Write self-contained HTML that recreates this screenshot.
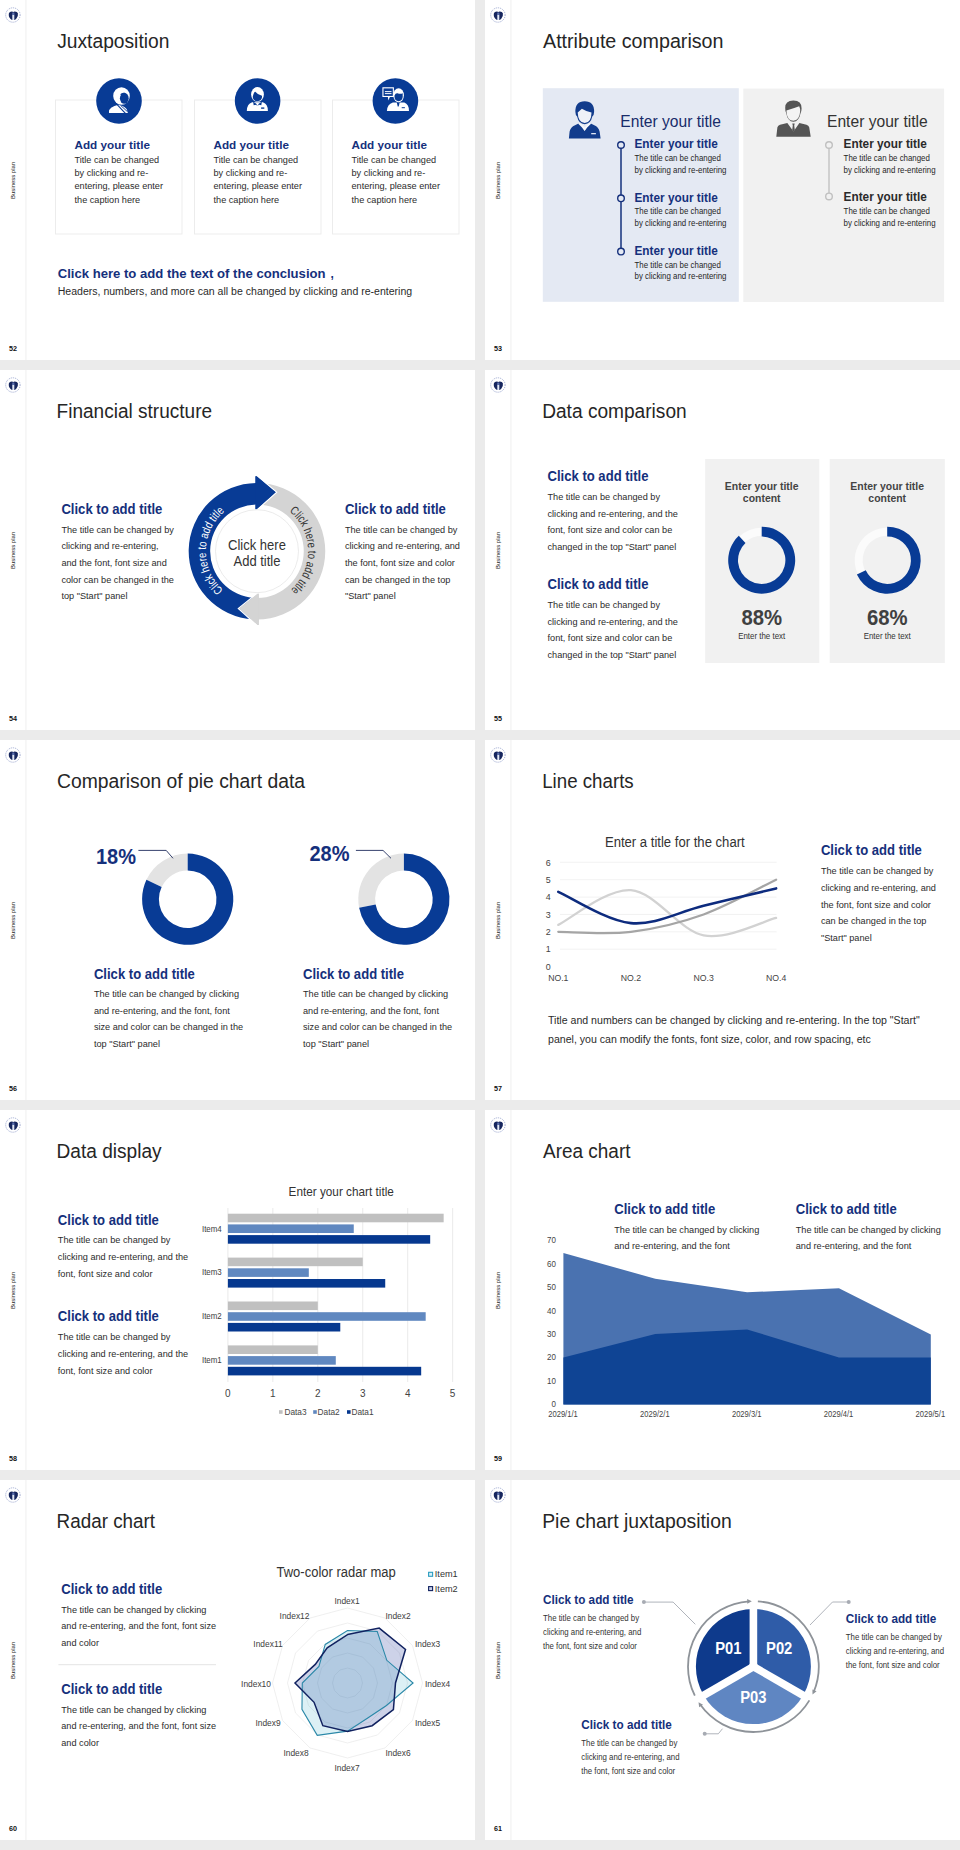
<!DOCTYPE html><html><head><meta charset="utf-8"><title>Slides</title><style>html,body{margin:0;padding:0;background:#ebebeb}svg{display:block}text{font-family:"Liberation Sans",sans-serif}</style></head><body>
<svg width="960" height="1850" viewBox="0 0 960 1850">
<rect width="960" height="1850" fill="#ebebeb"/>
<g transform="translate(0,0)">
<rect x="0" y="0" width="475" height="360" fill="#fff"/>
<rect x="25.2" y="0" width="1.4" height="360" fill="#f4f4f4"/>
<circle cx="12.9" cy="15" r="7.2" fill="none" stroke="#7d8cc0" stroke-width="1" stroke-dasharray="1.1 1" opacity="0.75"/>
<path d="M8.9 13.2 Q9.6 11.3 12 11.4 L13.3 12.1 L14.6 11.4 Q17.2 11.3 17.9 13.2 Q18.5 16.8 16.1 18.9 Q14.6 20.1 13.3 20.1 Q12 20.1 10.6 18.9 Q8.2 16.8 8.9 13.2 Z" fill="#17275f"/>
<path d="M12.3 12.4 L14.3 12.4 L14.5 15 L12.1 15 Z" fill="#5a6fae"/>
<rect x="12.3" y="15" width="2" height="5" fill="#e2e8f6"/>
<text transform="translate(15.2,180.4) rotate(-90)" font-size="6.2" fill="#1a1a1a" text-anchor="middle" textLength="37" lengthAdjust="spacingAndGlyphs">Business plan</text>
<text x="9" y="351" font-size="7.2" font-weight="bold" fill="#111">52</text>
<text x="57.2" y="47.5" font-size="20" fill="#262626" textLength="112.2" lengthAdjust="spacingAndGlyphs">Juxtaposition</text>
</g>
<g transform="translate(485,0)">
<rect x="0" y="0" width="475" height="360" fill="#fff"/>
<rect x="25.2" y="0" width="1.4" height="360" fill="#f4f4f4"/>
<circle cx="12.9" cy="15" r="7.2" fill="none" stroke="#7d8cc0" stroke-width="1" stroke-dasharray="1.1 1" opacity="0.75"/>
<path d="M8.9 13.2 Q9.6 11.3 12 11.4 L13.3 12.1 L14.6 11.4 Q17.2 11.3 17.9 13.2 Q18.5 16.8 16.1 18.9 Q14.6 20.1 13.3 20.1 Q12 20.1 10.6 18.9 Q8.2 16.8 8.9 13.2 Z" fill="#17275f"/>
<path d="M12.3 12.4 L14.3 12.4 L14.5 15 L12.1 15 Z" fill="#5a6fae"/>
<rect x="12.3" y="15" width="2" height="5" fill="#e2e8f6"/>
<text transform="translate(15.2,180.4) rotate(-90)" font-size="6.2" fill="#1a1a1a" text-anchor="middle" textLength="37" lengthAdjust="spacingAndGlyphs">Business plan</text>
<text x="9" y="351" font-size="7.2" font-weight="bold" fill="#111">53</text>
<text x="58" y="47.5" font-size="20" fill="#262626" textLength="180.5" lengthAdjust="spacingAndGlyphs">Attribute comparison</text>
</g>
<g transform="translate(0,370)">
<rect x="0" y="0" width="475" height="360" fill="#fff"/>
<rect x="25.2" y="0" width="1.4" height="360" fill="#f4f4f4"/>
<circle cx="12.9" cy="15" r="7.2" fill="none" stroke="#7d8cc0" stroke-width="1" stroke-dasharray="1.1 1" opacity="0.75"/>
<path d="M8.9 13.2 Q9.6 11.3 12 11.4 L13.3 12.1 L14.6 11.4 Q17.2 11.3 17.9 13.2 Q18.5 16.8 16.1 18.9 Q14.6 20.1 13.3 20.1 Q12 20.1 10.6 18.9 Q8.2 16.8 8.9 13.2 Z" fill="#17275f"/>
<path d="M12.3 12.4 L14.3 12.4 L14.5 15 L12.1 15 Z" fill="#5a6fae"/>
<rect x="12.3" y="15" width="2" height="5" fill="#e2e8f6"/>
<text transform="translate(15.2,180.4) rotate(-90)" font-size="6.2" fill="#1a1a1a" text-anchor="middle" textLength="37" lengthAdjust="spacingAndGlyphs">Business plan</text>
<text x="9" y="351" font-size="7.2" font-weight="bold" fill="#111">54</text>
<text x="56.6" y="47.5" font-size="20" fill="#262626" textLength="155.5" lengthAdjust="spacingAndGlyphs">Financial structure</text>
</g>
<g transform="translate(485,370)">
<rect x="0" y="0" width="475" height="360" fill="#fff"/>
<rect x="25.2" y="0" width="1.4" height="360" fill="#f4f4f4"/>
<circle cx="12.9" cy="15" r="7.2" fill="none" stroke="#7d8cc0" stroke-width="1" stroke-dasharray="1.1 1" opacity="0.75"/>
<path d="M8.9 13.2 Q9.6 11.3 12 11.4 L13.3 12.1 L14.6 11.4 Q17.2 11.3 17.9 13.2 Q18.5 16.8 16.1 18.9 Q14.6 20.1 13.3 20.1 Q12 20.1 10.6 18.9 Q8.2 16.8 8.9 13.2 Z" fill="#17275f"/>
<path d="M12.3 12.4 L14.3 12.4 L14.5 15 L12.1 15 Z" fill="#5a6fae"/>
<rect x="12.3" y="15" width="2" height="5" fill="#e2e8f6"/>
<text transform="translate(15.2,180.4) rotate(-90)" font-size="6.2" fill="#1a1a1a" text-anchor="middle" textLength="37" lengthAdjust="spacingAndGlyphs">Business plan</text>
<text x="9" y="351" font-size="7.2" font-weight="bold" fill="#111">55</text>
<text x="57.2" y="47.5" font-size="20" fill="#262626" textLength="144.5" lengthAdjust="spacingAndGlyphs">Data comparison</text>
</g>
<g transform="translate(0,740)">
<rect x="0" y="0" width="475" height="360" fill="#fff"/>
<rect x="25.2" y="0" width="1.4" height="360" fill="#f4f4f4"/>
<circle cx="12.9" cy="15" r="7.2" fill="none" stroke="#7d8cc0" stroke-width="1" stroke-dasharray="1.1 1" opacity="0.75"/>
<path d="M8.9 13.2 Q9.6 11.3 12 11.4 L13.3 12.1 L14.6 11.4 Q17.2 11.3 17.9 13.2 Q18.5 16.8 16.1 18.9 Q14.6 20.1 13.3 20.1 Q12 20.1 10.6 18.9 Q8.2 16.8 8.9 13.2 Z" fill="#17275f"/>
<path d="M12.3 12.4 L14.3 12.4 L14.5 15 L12.1 15 Z" fill="#5a6fae"/>
<rect x="12.3" y="15" width="2" height="5" fill="#e2e8f6"/>
<text transform="translate(15.2,180.4) rotate(-90)" font-size="6.2" fill="#1a1a1a" text-anchor="middle" textLength="37" lengthAdjust="spacingAndGlyphs">Business plan</text>
<text x="9" y="351" font-size="7.2" font-weight="bold" fill="#111">56</text>
<text x="57.1" y="47.5" font-size="20" fill="#262626" textLength="248" lengthAdjust="spacingAndGlyphs">Comparison of pie chart data</text>
</g>
<g transform="translate(485,740)">
<rect x="0" y="0" width="475" height="360" fill="#fff"/>
<rect x="25.2" y="0" width="1.4" height="360" fill="#f4f4f4"/>
<circle cx="12.9" cy="15" r="7.2" fill="none" stroke="#7d8cc0" stroke-width="1" stroke-dasharray="1.1 1" opacity="0.75"/>
<path d="M8.9 13.2 Q9.6 11.3 12 11.4 L13.3 12.1 L14.6 11.4 Q17.2 11.3 17.9 13.2 Q18.5 16.8 16.1 18.9 Q14.6 20.1 13.3 20.1 Q12 20.1 10.6 18.9 Q8.2 16.8 8.9 13.2 Z" fill="#17275f"/>
<path d="M12.3 12.4 L14.3 12.4 L14.5 15 L12.1 15 Z" fill="#5a6fae"/>
<rect x="12.3" y="15" width="2" height="5" fill="#e2e8f6"/>
<text transform="translate(15.2,180.4) rotate(-90)" font-size="6.2" fill="#1a1a1a" text-anchor="middle" textLength="37" lengthAdjust="spacingAndGlyphs">Business plan</text>
<text x="9" y="351" font-size="7.2" font-weight="bold" fill="#111">57</text>
<text x="57.2" y="47.5" font-size="20" fill="#262626" textLength="91.5" lengthAdjust="spacingAndGlyphs">Line charts</text>
</g>
<g transform="translate(0,1110)">
<rect x="0" y="0" width="475" height="360" fill="#fff"/>
<rect x="25.2" y="0" width="1.4" height="360" fill="#f4f4f4"/>
<circle cx="12.9" cy="15" r="7.2" fill="none" stroke="#7d8cc0" stroke-width="1" stroke-dasharray="1.1 1" opacity="0.75"/>
<path d="M8.9 13.2 Q9.6 11.3 12 11.4 L13.3 12.1 L14.6 11.4 Q17.2 11.3 17.9 13.2 Q18.5 16.8 16.1 18.9 Q14.6 20.1 13.3 20.1 Q12 20.1 10.6 18.9 Q8.2 16.8 8.9 13.2 Z" fill="#17275f"/>
<path d="M12.3 12.4 L14.3 12.4 L14.5 15 L12.1 15 Z" fill="#5a6fae"/>
<rect x="12.3" y="15" width="2" height="5" fill="#e2e8f6"/>
<text transform="translate(15.2,180.4) rotate(-90)" font-size="6.2" fill="#1a1a1a" text-anchor="middle" textLength="37" lengthAdjust="spacingAndGlyphs">Business plan</text>
<text x="9" y="351" font-size="7.2" font-weight="bold" fill="#111">58</text>
<text x="56.6" y="47.5" font-size="20" fill="#262626" textLength="105" lengthAdjust="spacingAndGlyphs">Data display</text>
</g>
<g transform="translate(485,1110)">
<rect x="0" y="0" width="475" height="360" fill="#fff"/>
<rect x="25.2" y="0" width="1.4" height="360" fill="#f4f4f4"/>
<circle cx="12.9" cy="15" r="7.2" fill="none" stroke="#7d8cc0" stroke-width="1" stroke-dasharray="1.1 1" opacity="0.75"/>
<path d="M8.9 13.2 Q9.6 11.3 12 11.4 L13.3 12.1 L14.6 11.4 Q17.2 11.3 17.9 13.2 Q18.5 16.8 16.1 18.9 Q14.6 20.1 13.3 20.1 Q12 20.1 10.6 18.9 Q8.2 16.8 8.9 13.2 Z" fill="#17275f"/>
<path d="M12.3 12.4 L14.3 12.4 L14.5 15 L12.1 15 Z" fill="#5a6fae"/>
<rect x="12.3" y="15" width="2" height="5" fill="#e2e8f6"/>
<text transform="translate(15.2,180.4) rotate(-90)" font-size="6.2" fill="#1a1a1a" text-anchor="middle" textLength="37" lengthAdjust="spacingAndGlyphs">Business plan</text>
<text x="9" y="351" font-size="7.2" font-weight="bold" fill="#111">59</text>
<text x="58" y="47.5" font-size="20" fill="#262626" textLength="87.5" lengthAdjust="spacingAndGlyphs">Area chart</text>
</g>
<g transform="translate(0,1480)">
<rect x="0" y="0" width="475" height="360" fill="#fff"/>
<rect x="25.2" y="0" width="1.4" height="360" fill="#f4f4f4"/>
<circle cx="12.9" cy="15" r="7.2" fill="none" stroke="#7d8cc0" stroke-width="1" stroke-dasharray="1.1 1" opacity="0.75"/>
<path d="M8.9 13.2 Q9.6 11.3 12 11.4 L13.3 12.1 L14.6 11.4 Q17.2 11.3 17.9 13.2 Q18.5 16.8 16.1 18.9 Q14.6 20.1 13.3 20.1 Q12 20.1 10.6 18.9 Q8.2 16.8 8.9 13.2 Z" fill="#17275f"/>
<path d="M12.3 12.4 L14.3 12.4 L14.5 15 L12.1 15 Z" fill="#5a6fae"/>
<rect x="12.3" y="15" width="2" height="5" fill="#e2e8f6"/>
<text transform="translate(15.2,180.4) rotate(-90)" font-size="6.2" fill="#1a1a1a" text-anchor="middle" textLength="37" lengthAdjust="spacingAndGlyphs">Business plan</text>
<text x="9" y="351" font-size="7.2" font-weight="bold" fill="#111">60</text>
<text x="56.6" y="47.5" font-size="20" fill="#262626" textLength="98.5" lengthAdjust="spacingAndGlyphs">Radar chart</text>
</g>
<g transform="translate(485,1480)">
<rect x="0" y="0" width="475" height="360" fill="#fff"/>
<rect x="25.2" y="0" width="1.4" height="360" fill="#f4f4f4"/>
<circle cx="12.9" cy="15" r="7.2" fill="none" stroke="#7d8cc0" stroke-width="1" stroke-dasharray="1.1 1" opacity="0.75"/>
<path d="M8.9 13.2 Q9.6 11.3 12 11.4 L13.3 12.1 L14.6 11.4 Q17.2 11.3 17.9 13.2 Q18.5 16.8 16.1 18.9 Q14.6 20.1 13.3 20.1 Q12 20.1 10.6 18.9 Q8.2 16.8 8.9 13.2 Z" fill="#17275f"/>
<path d="M12.3 12.4 L14.3 12.4 L14.5 15 L12.1 15 Z" fill="#5a6fae"/>
<rect x="12.3" y="15" width="2" height="5" fill="#e2e8f6"/>
<text transform="translate(15.2,180.4) rotate(-90)" font-size="6.2" fill="#1a1a1a" text-anchor="middle" textLength="37" lengthAdjust="spacingAndGlyphs">Business plan</text>
<text x="9" y="351" font-size="7.2" font-weight="bold" fill="#111">61</text>
<text x="57.2" y="47.5" font-size="20" fill="#262626" textLength="189.5" lengthAdjust="spacingAndGlyphs">Pie chart juxtaposition</text>
</g>
<rect x="55.5" y="100" width="126.5" height="134" fill="#fff" stroke="#ebebeb" stroke-width="0.9"/>
<circle cx="119" cy="101" r="22.8" fill="#083b95"/>
<text x="74.5" y="148.6" font-size="11.82" fill="#15307c" font-weight="bold" textLength="75.4" lengthAdjust="spacingAndGlyphs">Add your title</text>
<text x="74.5" y="162.5" font-size="9.84" fill="#2b2b2b" textLength="84.61" lengthAdjust="spacingAndGlyphs">Title can be changed</text>
<text x="74.5" y="175.9" font-size="9.84" fill="#2b2b2b" textLength="73.74" lengthAdjust="spacingAndGlyphs">by clicking and re-</text>
<text x="74.5" y="189.3" font-size="9.84" fill="#2b2b2b" textLength="88.51" lengthAdjust="spacingAndGlyphs">entering, please enter</text>
<text x="74.5" y="202.7" font-size="9.84" fill="#2b2b2b" textLength="65.62" lengthAdjust="spacingAndGlyphs">the caption here</text>
<rect x="194.5" y="100" width="126.5" height="134" fill="#fff" stroke="#ebebeb" stroke-width="0.9"/>
<circle cx="257.6" cy="101" r="22.8" fill="#083b95"/>
<text x="213.5" y="148.6" font-size="11.82" fill="#15307c" font-weight="bold" textLength="75.4" lengthAdjust="spacingAndGlyphs">Add your title</text>
<text x="213.5" y="162.5" font-size="9.84" fill="#2b2b2b" textLength="84.61" lengthAdjust="spacingAndGlyphs">Title can be changed</text>
<text x="213.5" y="175.9" font-size="9.84" fill="#2b2b2b" textLength="73.74" lengthAdjust="spacingAndGlyphs">by clicking and re-</text>
<text x="213.5" y="189.3" font-size="9.84" fill="#2b2b2b" textLength="88.51" lengthAdjust="spacingAndGlyphs">entering, please enter</text>
<text x="213.5" y="202.7" font-size="9.84" fill="#2b2b2b" textLength="65.62" lengthAdjust="spacingAndGlyphs">the caption here</text>
<rect x="332.5" y="100" width="126.5" height="134" fill="#fff" stroke="#ebebeb" stroke-width="0.9"/>
<circle cx="395.4" cy="101" r="22.8" fill="#083b95"/>
<text x="351.5" y="148.6" font-size="11.82" fill="#15307c" font-weight="bold" textLength="75.4" lengthAdjust="spacingAndGlyphs">Add your title</text>
<text x="351.5" y="162.5" font-size="9.84" fill="#2b2b2b" textLength="84.61" lengthAdjust="spacingAndGlyphs">Title can be changed</text>
<text x="351.5" y="175.9" font-size="9.84" fill="#2b2b2b" textLength="73.74" lengthAdjust="spacingAndGlyphs">by clicking and re-</text>
<text x="351.5" y="189.3" font-size="9.84" fill="#2b2b2b" textLength="88.51" lengthAdjust="spacingAndGlyphs">entering, please enter</text>
<text x="351.5" y="202.7" font-size="9.84" fill="#2b2b2b" textLength="65.62" lengthAdjust="spacingAndGlyphs">the caption here</text>
<g transform="translate(119,100.6)"><path d="M-10 12.5 L-10 9.6 Q-8.4 6.6 -4.6 5.4 L-1.4 4.4 Q4 4.6 7.6 8.4 L9 12.5 Z" fill="#fff"/><ellipse cx="2.5" cy="-4.6" rx="8.3" ry="8.8" fill="#fff"/><ellipse cx="5.3" cy="-2.3" rx="4.4" ry="5.5" fill="#083b95"/><path d="M1.2 -6.4 Q3 -8.6 6.4 -7.6 L4 -4 Z" fill="#083b95"/><path d="M-6.6 -1 L6.4 12.8" stroke="#083b95" stroke-width="1.1"/><path d="M1.6 4.8 L8.6 11.2" stroke="#083b95" stroke-width="0.9"/></g>
<g transform="translate(257.5,100.6)"><path d="M-10.7 10.4 Q-10.6 3.2 -5.4 1.6 L5.4 1.6 Q10.4 3.2 10.4 10.4 Z" fill="#fff"/><path d="M-4.4 1.2 L-1.2 3.2 L0 5.4 L1.2 3.2 L4.4 1.2 L3.8 4.6 L1.4 4.2 L0 5.4 L-1.4 4.2 L-3.8 4.6 Z" fill="#083b95"/><rect x="3.6" y="6.8" width="3.2" height="1.4" fill="#083b95"/><ellipse cx="0" cy="-6.2" rx="6.4" ry="7.4" fill="#fff"/><path d="M-4.7 -4.2 Q-3.6 -8.6 -2.2 -8.8 Q0.6 -5.4 4.5 -4.8 L4.5 -3.4 Q4.2 0.2 0 0.6 Q-4.4 0.2 -4.7 -3.4 Z" fill="#083b95"/></g>
<g transform="translate(395.5,100.6)"><path d="M-8.6 10.4 Q-8.4 3.4 -2.6 1.8 L8.8 1.8 Q13.5 3.4 13.5 10.4 Z" fill="#fff"/><path d="M1.2 1.6 L2.2 6 L3.2 6 L4.2 1.6 Z" fill="#083b95"/><rect x="6.2" y="6.6" width="3.2" height="1" fill="#083b95"/><ellipse cx="3.1" cy="-5.3" rx="5.3" ry="7" fill="#fff"/><path d="M-1 -5 Q0 -7.8 2 -7.4 Q5 -6.4 7.2 -7.4 L7.2 -3.6 Q6.8 0.2 3.1 0.6 Q-0.8 0.2 -1 -3.6 Z" fill="#083b95"/><path d="M-13.1 -13.3 L-1.6 -13.3 L-1.6 -3.6 L-5.6 -3.6 L-7.2 0 L-7.6 -3.6 L-13.1 -3.6 Z" fill="#fff"/><rect x="-12" y="-12.2" width="9.3" height="7.5" fill="#083b95"/><rect x="-10.6" y="-9.6" width="6.6" height="1.1" fill="#dfe6f4"/><rect x="-10.6" y="-7.6" width="6.6" height="1.1" fill="#dfe6f4"/></g>
<text x="57.7" y="277.6" font-size="13.62" fill="#15307c" font-weight="bold" textLength="267.86" lengthAdjust="spacingAndGlyphs">Click here to add the text of the conclusion</text>
<text x="330.5" y="277.6" font-size="12.9" fill="#15307c" font-weight="bold" textLength="3.33" lengthAdjust="spacingAndGlyphs">,</text>
<text x="57.7" y="295.0" font-size="10.01" fill="#2b2b2b" textLength="354.47" lengthAdjust="spacingAndGlyphs">Headers, numbers, and more can all be changed by clicking and re-entering</text>
<rect x="542.8" y="88.2" width="196" height="213.6" fill="#e4e9f3"/>
<rect x="743.3" y="88.6" width="200.8" height="213.4" fill="#f1f1f1"/>
<path d="M568.9 138.5 L569.6 131.5 Q570.6 127 575 125.2 L580 122.8 L584.6 130.8 L589.3 122.8 L594.3 125.2 Q598.6 127 599.6 131.5 L600.6 138.5 Z" fill="#123c8c"/>
<path d="M578 123.6 L580 122.6 L584.6 127.4 L589.3 122.6 L591.3 123.6 L587.2 127.6 L584.6 131 L582 127.6 Z" fill="#f4f6fb"/>
<path d="M575.4 112 Q575 101.2 584.7 101.2 Q594.4 101.2 594.1 112 Q594 115.5 592.3 116.5 Q590.8 123.8 584.7 124.3 Q578.6 123.8 577.1 116.5 Q575.5 115.5 575.4 112 Z" fill="#123c8c"/>
<path d="M577.7 112.6 L581.9 108.8 Q586.5 111.8 591.5 112.4 Q591.4 122.7 584.7 123.1 Q578 122.7 577.7 112.6 Z" fill="#eef1f8"/>
<rect x="591.2" y="133" width="4.7" height="1.3" fill="#dfe6f4"/>
<path d="M776.3 136.7 L777.4 127.3 Q778 125.5 780 124.8 L787.3 123.1 L793.5 131.5 L799.4 123.1 L806.5 124.8 Q808.6 125.5 809.2 127.3 L810.7 136.7 Z" fill="#555"/>
<path d="M792.3 123.6 L794.7 123.6 L794.2 125.6 L794.8 130 L793.5 131.8 L792.2 130 L792.8 125.6 Z" fill="#555"/>
<path d="M785.2 108 Q785 100.5 793.4 100.5 Q801.8 100.5 801.6 108.5 Q801.4 112 800.6 113 Q799 121.5 793.4 121.8 Q787.6 121.5 786.2 113 Q785.2 111.5 785.2 108 Z" fill="#555"/>
<path d="M786.4 110.4 Q793 108.6 799.2 106.2 Q800.3 108.5 800.2 111 Q799.6 120.6 793.4 120.8 Q787.2 120.6 786.6 112.5 Z" fill="#f4f4f4"/>
<text x="620.3" y="126.6" font-size="16.79" fill="#182c6a" textLength="100.71" lengthAdjust="spacingAndGlyphs">Enter your title</text>
<text x="827" y="126.5" font-size="16.79" fill="#333" textLength="100.71" lengthAdjust="spacingAndGlyphs">Enter your title</text>
<line x1="621" y1="145" x2="621" y2="251.6" stroke="#15307c" stroke-width="1.5"/>
<circle cx="621" cy="145" r="3.3" fill="#e4e9f3" stroke="#15307c" stroke-width="1.4"/>
<circle cx="621" cy="198.3" r="3.3" fill="#e4e9f3" stroke="#15307c" stroke-width="1.4"/>
<circle cx="621" cy="251.6" r="3.3" fill="#e4e9f3" stroke="#15307c" stroke-width="1.4"/>
<text x="634.5" y="148.3" font-size="12.69" fill="#15307c" font-weight="bold" textLength="83.27" lengthAdjust="spacingAndGlyphs">Enter your title</text>
<text x="634.5" y="161.1" font-size="8.47" fill="#262626" textLength="86.3" lengthAdjust="spacingAndGlyphs">The title can be changed</text>
<text x="634.5" y="172.6" font-size="8.47" fill="#262626" textLength="91.98" lengthAdjust="spacingAndGlyphs">by clicking and re-entering</text>
<text x="634.5" y="201.6" font-size="12.69" fill="#15307c" font-weight="bold" textLength="83.27" lengthAdjust="spacingAndGlyphs">Enter your title</text>
<text x="634.5" y="214.4" font-size="8.47" fill="#262626" textLength="86.3" lengthAdjust="spacingAndGlyphs">The title can be changed</text>
<text x="634.5" y="225.9" font-size="8.47" fill="#262626" textLength="91.98" lengthAdjust="spacingAndGlyphs">by clicking and re-entering</text>
<text x="634.5" y="254.9" font-size="12.69" fill="#15307c" font-weight="bold" textLength="83.27" lengthAdjust="spacingAndGlyphs">Enter your title</text>
<text x="634.5" y="267.7" font-size="8.47" fill="#262626" textLength="86.3" lengthAdjust="spacingAndGlyphs">The title can be changed</text>
<text x="634.5" y="279.2" font-size="8.47" fill="#262626" textLength="91.98" lengthAdjust="spacingAndGlyphs">by clicking and re-entering</text>
<line x1="829" y1="145" x2="829" y2="196.4" stroke="#c4c4c4" stroke-width="1.5"/>
<circle cx="829" cy="145" r="3.3" fill="#f1f1f1" stroke="#c0c0c0" stroke-width="1.4"/>
<circle cx="829" cy="196.4" r="3.3" fill="#f1f1f1" stroke="#c0c0c0" stroke-width="1.4"/>
<text x="843.6" y="148.3" font-size="12.69" fill="#2a2a2a" font-weight="bold" textLength="83.27" lengthAdjust="spacingAndGlyphs">Enter your title</text>
<text x="843.6" y="161.2" font-size="8.47" fill="#262626" textLength="86.3" lengthAdjust="spacingAndGlyphs">The title can be changed</text>
<text x="843.6" y="172.7" font-size="8.47" fill="#262626" textLength="91.98" lengthAdjust="spacingAndGlyphs">by clicking and re-entering</text>
<text x="843.6" y="201.4" font-size="12.69" fill="#2a2a2a" font-weight="bold" textLength="83.27" lengthAdjust="spacingAndGlyphs">Enter your title</text>
<text x="843.6" y="214.3" font-size="8.47" fill="#262626" textLength="86.3" lengthAdjust="spacingAndGlyphs">The title can be changed</text>
<text x="843.6" y="225.8" font-size="8.47" fill="#262626" textLength="91.98" lengthAdjust="spacingAndGlyphs">by clicking and re-entering</text>
<path d="M257.00 482.95 A68.25 68.25 0 0 1 257.00 619.45 L257.00 597.95 A46.75 46.75 0 0 0 257.00 504.45 Z" fill="#d4d4d4"/>
<path d="M253.43 619.36 A68.25 68.25 0 0 1 256.88 482.95 L256.92 504.45 A46.75 46.75 0 0 0 254.55 597.89 Z" fill="#083b95"/>
<path d="M255.5 476.3 L256.7 476.3 L275.8 492.2 L256.7 509.2 L255.5 509.2 Z" fill="#083b95"/>
<polyline points="256.7,475.6 276.6,492.2 256.7,509.9" fill="none" stroke="#fff" stroke-width="1.3"/>
<path d="M255.5 476.3 L256.7 476.3 L275.8 492.2 L256.7 509.2 L255.5 509.2 Z" fill="#083b95"/>
<path d="M258.8 593.7 L257.5 593.7 L239.2 608.6 L257.5 625 L258.8 625 Z" fill="#d4d4d4"/>
<polyline points="257.5,593 238.4,608.6 257.5,625.7" fill="none" stroke="#fff" stroke-width="1.3"/>
<path d="M258.8 593.7 L257.5 593.7 L239.2 608.6 L257.5 625 L258.8 625 Z" fill="#d4d4d4"/>
<circle cx="257" cy="551.2" r="41.5" fill="#fff" stroke="#e6e6e6" stroke-width="0.8"/>
<defs><path id="arcB" d="M239.49 599.31 A51.2 51.2 0 0 1 241.18 502.51"/><path id="arcG" d="M272.82 502.51 A51.2 51.2 0 0 1 274.51 599.31"/></defs>
<text font-size="12" fill="#fff"><textPath href="#arcB" startOffset="50%" text-anchor="middle" textLength="89" lengthAdjust="spacingAndGlyphs">Click here to add title</textPath></text>
<text font-size="12" fill="#333"><textPath href="#arcG" startOffset="50%" text-anchor="middle" textLength="89" lengthAdjust="spacingAndGlyphs">Click here to add title</textPath></text>
<text x="257" y="549.7" font-size="13.97" fill="#333" text-anchor="middle" textLength="57.8" lengthAdjust="spacingAndGlyphs">Click here</text>
<text x="257" y="565.5" font-size="13.97" fill="#333" text-anchor="middle" textLength="46.97" lengthAdjust="spacingAndGlyphs">Add title</text>
<text x="61.4" y="513.6" font-size="14.06" fill="#15307c" font-weight="bold" textLength="101.02" lengthAdjust="spacingAndGlyphs">Click to add title</text>
<text x="61.4" y="532.6" font-size="9.85" fill="#2b2b2b" textLength="112.54" lengthAdjust="spacingAndGlyphs">The title can be changed by</text>
<text x="61.4" y="549.3" font-size="9.85" fill="#2b2b2b" textLength="97.25" lengthAdjust="spacingAndGlyphs">clicking and re-entering,</text>
<text x="61.4" y="566.0" font-size="9.85" fill="#2b2b2b" textLength="105.42" lengthAdjust="spacingAndGlyphs">and the font, font size and</text>
<text x="61.4" y="582.7" font-size="9.85" fill="#2b2b2b" textLength="112.55" lengthAdjust="spacingAndGlyphs">color can be changed in the</text>
<text x="61.4" y="599.4" font-size="9.85" fill="#2b2b2b" textLength="66.08" lengthAdjust="spacingAndGlyphs">top "Start" panel</text>
<text x="344.9" y="513.6" font-size="14.06" fill="#15307c" font-weight="bold" textLength="101.02" lengthAdjust="spacingAndGlyphs">Click to add title</text>
<text x="344.9" y="532.6" font-size="9.85" fill="#2b2b2b" textLength="112.54" lengthAdjust="spacingAndGlyphs">The title can be changed by</text>
<text x="344.9" y="549.3" font-size="9.85" fill="#2b2b2b" textLength="115.08" lengthAdjust="spacingAndGlyphs">clicking and re-entering, and</text>
<text x="344.9" y="566.0" font-size="9.85" fill="#2b2b2b" textLength="109.99" lengthAdjust="spacingAndGlyphs">the font, font size and color</text>
<text x="344.9" y="582.7" font-size="9.85" fill="#2b2b2b" textLength="105.43" lengthAdjust="spacingAndGlyphs">can be changed in the top</text>
<text x="344.9" y="599.4" font-size="9.85" fill="#2b2b2b" textLength="50.81" lengthAdjust="spacingAndGlyphs">"Start" panel</text>
<text x="547.5" y="480.8" font-size="14.06" fill="#15307c" font-weight="bold" textLength="101.02" lengthAdjust="spacingAndGlyphs">Click to add title</text>
<text x="547.5" y="500.0" font-size="9.85" fill="#2b2b2b" textLength="112.54" lengthAdjust="spacingAndGlyphs">The title can be changed by</text>
<text x="547.5" y="516.7" font-size="9.85" fill="#2b2b2b" textLength="130.36" lengthAdjust="spacingAndGlyphs">clicking and re-entering, and the</text>
<text x="547.5" y="533.4" font-size="9.85" fill="#2b2b2b" textLength="124.76" lengthAdjust="spacingAndGlyphs">font, font size and color can be</text>
<text x="547.5" y="550.1" font-size="9.85" fill="#2b2b2b" textLength="128.73" lengthAdjust="spacingAndGlyphs">changed in the top "Start" panel</text>
<text x="547.5" y="588.7" font-size="14.06" fill="#15307c" font-weight="bold" textLength="101.02" lengthAdjust="spacingAndGlyphs">Click to add title</text>
<text x="547.5" y="608.0" font-size="9.85" fill="#2b2b2b" textLength="112.54" lengthAdjust="spacingAndGlyphs">The title can be changed by</text>
<text x="547.5" y="624.7" font-size="9.85" fill="#2b2b2b" textLength="130.36" lengthAdjust="spacingAndGlyphs">clicking and re-entering, and the</text>
<text x="547.5" y="641.4" font-size="9.85" fill="#2b2b2b" textLength="124.76" lengthAdjust="spacingAndGlyphs">font, font size and color can be</text>
<text x="547.5" y="658.1" font-size="9.85" fill="#2b2b2b" textLength="128.73" lengthAdjust="spacingAndGlyphs">changed in the top "Start" panel</text>
<rect x="705.2" y="459" width="114.1" height="204" fill="#f1f1f1"/>
<text x="761.7" y="489.6" font-size="11.22" fill="#444" font-weight="bold" text-anchor="middle" textLength="73.67" lengthAdjust="spacingAndGlyphs">Enter your title</text>
<text x="761.7" y="502.3" font-size="11.22" fill="#444" font-weight="bold" text-anchor="middle" textLength="37.7" lengthAdjust="spacingAndGlyphs">content</text>
<path d="M739.45 536.51 A32.5 32.5 0 0 1 761.70 527.70 L761.70 535.70 A24.5 24.5 0 0 0 744.93 542.34 Z" fill="#fbfbfb"/>
<path d="M761.70 526.70 A33.5 33.5 0 1 1 738.77 535.78 L745.48 542.92 A23.7 23.7 0 1 0 761.70 536.50 Z" fill="#083b95"/>
<text x="761.7" y="624.5" font-size="21.82" fill="#404040" font-weight="bold" text-anchor="middle" textLength="40.63" lengthAdjust="spacingAndGlyphs">88%</text>
<text x="761.7" y="638.8" font-size="8.49" fill="#333" text-anchor="middle" textLength="46.99" lengthAdjust="spacingAndGlyphs">Enter the text</text>
<rect x="829.7" y="459" width="115.1" height="204" fill="#f1f1f1"/>
<text x="887.2" y="489.6" font-size="11.22" fill="#444" font-weight="bold" text-anchor="middle" textLength="73.67" lengthAdjust="spacingAndGlyphs">Enter your title</text>
<text x="887.2" y="502.3" font-size="11.22" fill="#444" font-weight="bold" text-anchor="middle" textLength="37.7" lengthAdjust="spacingAndGlyphs">content</text>
<path d="M857.79 574.04 A32.5 32.5 0 0 1 887.20 527.70 L887.20 535.70 A24.5 24.5 0 0 0 865.03 570.63 Z" fill="#fbfbfb"/>
<path d="M887.20 526.70 A33.5 33.5 0 1 1 856.89 574.46 L865.76 570.29 A23.7 23.7 0 1 0 887.20 536.50 Z" fill="#083b95"/>
<text x="887.2" y="624.5" font-size="21.82" fill="#404040" font-weight="bold" text-anchor="middle" textLength="40.63" lengthAdjust="spacingAndGlyphs">68%</text>
<text x="887.2" y="638.8" font-size="8.49" fill="#333" text-anchor="middle" textLength="46.99" lengthAdjust="spacingAndGlyphs">Enter the text</text>
<path d="M146.44 879.78 A45.6 45.6 0 0 1 187.69 853.60 L187.69 870.40 A28.8 28.8 0 0 0 161.64 886.94 Z" fill="#e3e3e3"/>
<path d="M187.70 853.60 A45.6 45.6 0 1 1 146.44 879.78 L161.64 886.94 A28.8 28.8 0 1 0 187.70 870.40 Z" fill="#083b95"/>
<text x="96" y="864" font-size="21.5" fill="#15307c" font-weight="bold" textLength="40.03" lengthAdjust="spacingAndGlyphs">18%</text>
<polyline points="138.4,850.4 166.2,850.4 173,858.3" fill="none" stroke="#1f2d5c" stroke-width="0.9"/>
<path d="M359.11 907.74 A45.6 45.6 0 0 1 403.89 853.60 L403.89 870.40 A28.8 28.8 0 0 0 375.61 904.60 Z" fill="#e3e3e3"/>
<path d="M403.90 853.60 A45.6 45.6 0 1 1 359.11 907.74 L375.61 904.60 A28.8 28.8 0 1 0 403.90 870.40 Z" fill="#083b95"/>
<text x="309.5" y="861" font-size="21.5" fill="#15307c" font-weight="bold" textLength="40.03" lengthAdjust="spacingAndGlyphs">28%</text>
<polyline points="355.9,850.4 383,850.4 391,858.3" fill="none" stroke="#1f2d5c" stroke-width="0.9"/>
<text x="93.9" y="978.6" font-size="14.06" fill="#15307c" font-weight="bold" textLength="101.02" lengthAdjust="spacingAndGlyphs">Click to add title</text>
<text x="93.9" y="997.2" font-size="9.85" fill="#2b2b2b" textLength="145.12" lengthAdjust="spacingAndGlyphs">The title can be changed by clicking</text>
<text x="93.9" y="1013.8" font-size="9.85" fill="#2b2b2b" textLength="135.97" lengthAdjust="spacingAndGlyphs">and re-entering, and the font, font</text>
<text x="93.9" y="1030.4" font-size="9.85" fill="#2b2b2b" textLength="149.21" lengthAdjust="spacingAndGlyphs">size and color can be changed in the</text>
<text x="93.9" y="1047.0" font-size="9.85" fill="#2b2b2b" textLength="66.08" lengthAdjust="spacingAndGlyphs">top "Start" panel</text>
<text x="303" y="978.6" font-size="14.06" fill="#15307c" font-weight="bold" textLength="101.02" lengthAdjust="spacingAndGlyphs">Click to add title</text>
<text x="303" y="997.2" font-size="9.85" fill="#2b2b2b" textLength="145.12" lengthAdjust="spacingAndGlyphs">The title can be changed by clicking</text>
<text x="303" y="1013.8" font-size="9.85" fill="#2b2b2b" textLength="135.97" lengthAdjust="spacingAndGlyphs">and re-entering, and the font, font</text>
<text x="303" y="1030.4" font-size="9.85" fill="#2b2b2b" textLength="149.21" lengthAdjust="spacingAndGlyphs">size and color can be changed in the</text>
<text x="303" y="1047.0" font-size="9.85" fill="#2b2b2b" textLength="66.08" lengthAdjust="spacingAndGlyphs">top "Start" panel</text>
<text x="674.8" y="847" font-size="14.08" fill="#333" text-anchor="middle" textLength="139.8" lengthAdjust="spacingAndGlyphs">Enter a title for the chart</text>
<line x1="560" y1="949.22" x2="776.5" y2="949.22" stroke="#efefef" stroke-width="0.8"/>
<line x1="560" y1="931.84" x2="776.5" y2="931.84" stroke="#efefef" stroke-width="0.8"/>
<line x1="560" y1="914.46" x2="776.5" y2="914.46" stroke="#efefef" stroke-width="0.8"/>
<line x1="560" y1="897.08" x2="776.5" y2="897.08" stroke="#efefef" stroke-width="0.8"/>
<line x1="560" y1="879.70" x2="776.5" y2="879.70" stroke="#efefef" stroke-width="0.8"/>
<line x1="560" y1="862.32" x2="776.5" y2="862.32" stroke="#efefef" stroke-width="0.8"/>
<text x="548.1" y="969.8" font-size="9.57" fill="#444" text-anchor="middle" textLength="4.95" lengthAdjust="spacingAndGlyphs">0</text>
<text x="548.1" y="952.42" font-size="9.57" fill="#444" text-anchor="middle" textLength="4.95" lengthAdjust="spacingAndGlyphs">1</text>
<text x="548.1" y="935.04" font-size="9.57" fill="#444" text-anchor="middle" textLength="4.95" lengthAdjust="spacingAndGlyphs">2</text>
<text x="548.1" y="917.66" font-size="9.57" fill="#444" text-anchor="middle" textLength="4.95" lengthAdjust="spacingAndGlyphs">3</text>
<text x="548.1" y="900.28" font-size="9.57" fill="#444" text-anchor="middle" textLength="4.95" lengthAdjust="spacingAndGlyphs">4</text>
<text x="548.1" y="882.9" font-size="9.57" fill="#444" text-anchor="middle" textLength="4.95" lengthAdjust="spacingAndGlyphs">5</text>
<text x="548.1" y="865.52" font-size="9.57" fill="#444" text-anchor="middle" textLength="4.95" lengthAdjust="spacingAndGlyphs">6</text>
<text x="558.3" y="981.3" font-size="9.35" fill="#444" text-anchor="middle" textLength="20.31" lengthAdjust="spacingAndGlyphs">NO.1</text>
<text x="630.9" y="981.3" font-size="9.35" fill="#444" text-anchor="middle" textLength="20.31" lengthAdjust="spacingAndGlyphs">NO.2</text>
<text x="703.6" y="981.3" font-size="9.35" fill="#444" text-anchor="middle" textLength="20.31" lengthAdjust="spacingAndGlyphs">NO.3</text>
<text x="776.1" y="981.3" font-size="9.35" fill="#444" text-anchor="middle" textLength="20.31" lengthAdjust="spacingAndGlyphs">NO.4</text>
<path d="M558.30 924.89 C570.40 919.09 606.68 888.39 630.90 890.13 C655.12 891.87 679.40 930.68 703.60 935.32 C727.80 939.95 764.02 920.83 776.10 917.94" fill="none" stroke="#d2d2d2" stroke-width="2.3" stroke-linecap="round"/>
<path d="M558.30 931.84 C570.40 931.84 606.68 934.74 630.90 931.84 C655.12 928.94 679.40 923.15 703.60 914.46 C727.80 905.77 764.02 885.49 776.10 879.70" fill="none" stroke="#a5a5a5" stroke-width="2.3" stroke-linecap="round"/>
<path d="M558.30 891.87 C570.40 897.08 606.68 920.83 630.90 923.15 C655.12 925.47 679.40 911.56 703.60 905.77 C727.80 899.98 764.02 891.29 776.10 888.39" fill="none" stroke="#0d2b7e" stroke-width="2.6" stroke-linecap="round"/>
<text x="820.9" y="854.7" font-size="14.06" fill="#15307c" font-weight="bold" textLength="101.02" lengthAdjust="spacingAndGlyphs">Click to add title</text>
<text x="820.9" y="874.4" font-size="9.85" fill="#2b2b2b" textLength="112.54" lengthAdjust="spacingAndGlyphs">The title can be changed by</text>
<text x="820.9" y="891.0" font-size="9.85" fill="#2b2b2b" textLength="115.08" lengthAdjust="spacingAndGlyphs">clicking and re-entering, and</text>
<text x="820.9" y="907.6" font-size="9.85" fill="#2b2b2b" textLength="109.99" lengthAdjust="spacingAndGlyphs">the font, font size and color</text>
<text x="820.9" y="924.2" font-size="9.85" fill="#2b2b2b" textLength="105.43" lengthAdjust="spacingAndGlyphs">can be changed in the top</text>
<text x="820.9" y="940.8" font-size="9.85" fill="#2b2b2b" textLength="50.81" lengthAdjust="spacingAndGlyphs">"Start" panel</text>
<text x="548" y="1024.0" font-size="10.59" fill="#2b2b2b">Title and numbers can be changed by clicking and re-entering. In the top "Start"</text>
<text x="548" y="1043.2" font-size="10.59" fill="#2b2b2b">panel, you can modify the fonts, font size, color, and row spacing, etc</text>
<text x="341.2" y="1196.3" font-size="12.64" fill="#333" text-anchor="middle" textLength="105.23" lengthAdjust="spacingAndGlyphs">Enter your chart title</text>
<line x1="227.90" y1="1208" x2="227.90" y2="1382" stroke="#e4e4e4" stroke-width="0.8"/>
<text x="227.9" y="1397.3" font-size="10.75" fill="#444" text-anchor="middle" textLength="5.56" lengthAdjust="spacingAndGlyphs">0</text>
<line x1="272.85" y1="1208" x2="272.85" y2="1382" stroke="#e4e4e4" stroke-width="0.8"/>
<text x="272.85" y="1397.3" font-size="10.75" fill="#444" text-anchor="middle" textLength="5.56" lengthAdjust="spacingAndGlyphs">1</text>
<line x1="317.80" y1="1208" x2="317.80" y2="1382" stroke="#e4e4e4" stroke-width="0.8"/>
<text x="317.8" y="1397.3" font-size="10.75" fill="#444" text-anchor="middle" textLength="5.56" lengthAdjust="spacingAndGlyphs">2</text>
<line x1="362.75" y1="1208" x2="362.75" y2="1382" stroke="#e4e4e4" stroke-width="0.8"/>
<text x="362.75" y="1397.3" font-size="10.75" fill="#444" text-anchor="middle" textLength="5.56" lengthAdjust="spacingAndGlyphs">3</text>
<line x1="407.70" y1="1208" x2="407.70" y2="1382" stroke="#e4e4e4" stroke-width="0.8"/>
<text x="407.7" y="1397.3" font-size="10.75" fill="#444" text-anchor="middle" textLength="5.56" lengthAdjust="spacingAndGlyphs">4</text>
<line x1="452.65" y1="1208" x2="452.65" y2="1382" stroke="#e4e4e4" stroke-width="0.8"/>
<text x="452.65" y="1397.3" font-size="10.75" fill="#444" text-anchor="middle" textLength="5.56" lengthAdjust="spacingAndGlyphs">5</text>
<rect x="227.9" y="1345.40" width="89.90" height="8.6" fill="#c0c0c0"/>
<rect x="227.9" y="1356.10" width="107.88" height="8.6" fill="#6088c0"/>
<rect x="227.9" y="1366.80" width="193.28" height="8.6" fill="#06388f"/>
<text x="221.7" y="1363.2" font-size="8.49" fill="#404040" text-anchor="end" textLength="19.76" lengthAdjust="spacingAndGlyphs">Item1</text>
<rect x="227.9" y="1301.50" width="89.90" height="8.6" fill="#c0c0c0"/>
<rect x="227.9" y="1312.20" width="197.78" height="8.6" fill="#6088c0"/>
<rect x="227.9" y="1322.90" width="112.38" height="8.6" fill="#06388f"/>
<text x="221.7" y="1319.3" font-size="8.49" fill="#404040" text-anchor="end" textLength="19.76" lengthAdjust="spacingAndGlyphs">Item2</text>
<rect x="227.9" y="1257.60" width="134.85" height="8.6" fill="#c0c0c0"/>
<rect x="227.9" y="1268.30" width="80.91" height="8.6" fill="#6088c0"/>
<rect x="227.9" y="1279.00" width="157.33" height="8.6" fill="#06388f"/>
<text x="221.7" y="1275.4" font-size="8.49" fill="#404040" text-anchor="end" textLength="19.76" lengthAdjust="spacingAndGlyphs">Item3</text>
<rect x="227.9" y="1213.70" width="215.76" height="8.6" fill="#c0c0c0"/>
<rect x="227.9" y="1224.40" width="125.86" height="8.6" fill="#6088c0"/>
<rect x="227.9" y="1235.10" width="202.28" height="8.6" fill="#06388f"/>
<text x="221.7" y="1231.5" font-size="8.49" fill="#404040" text-anchor="end" textLength="19.76" lengthAdjust="spacingAndGlyphs">Item4</text>
<rect x="279" y="1410.2" width="3.6" height="3.6" fill="#c0c0c0"/>
<text x="284.4" y="1415" font-size="8.92" fill="#444" textLength="22.15" lengthAdjust="spacingAndGlyphs">Data3</text>
<rect x="313.2" y="1410.2" width="3.6" height="3.6" fill="#6088c0"/>
<text x="317.6" y="1415" font-size="8.92" fill="#444" textLength="22.15" lengthAdjust="spacingAndGlyphs">Data2</text>
<rect x="347" y="1410.2" width="3.6" height="3.6" fill="#06388f"/>
<text x="351.4" y="1415" font-size="8.92" fill="#444" textLength="22.15" lengthAdjust="spacingAndGlyphs">Data1</text>
<text x="57.8" y="1224.8" font-size="14.06" fill="#15307c" font-weight="bold" textLength="101.02" lengthAdjust="spacingAndGlyphs">Click to add title</text>
<text x="57.8" y="1243.3" font-size="9.85" fill="#2b2b2b" textLength="112.54" lengthAdjust="spacingAndGlyphs">The title can be changed by</text>
<text x="57.8" y="1260.1" font-size="9.85" fill="#2b2b2b" textLength="130.36" lengthAdjust="spacingAndGlyphs">clicking and re-entering, and the</text>
<text x="57.8" y="1276.9" font-size="9.85" fill="#2b2b2b" textLength="94.71" lengthAdjust="spacingAndGlyphs">font, font size and color</text>
<text x="57.8" y="1321.4" font-size="14.06" fill="#15307c" font-weight="bold" textLength="101.02" lengthAdjust="spacingAndGlyphs">Click to add title</text>
<text x="57.8" y="1340.2" font-size="9.85" fill="#2b2b2b" textLength="112.54" lengthAdjust="spacingAndGlyphs">The title can be changed by</text>
<text x="57.8" y="1357.0" font-size="9.85" fill="#2b2b2b" textLength="130.36" lengthAdjust="spacingAndGlyphs">clicking and re-entering, and the</text>
<text x="57.8" y="1373.8" font-size="9.85" fill="#2b2b2b" textLength="94.71" lengthAdjust="spacingAndGlyphs">font, font size and color</text>
<text x="614.2" y="1213.7" font-size="14.06" fill="#15307c" font-weight="bold" textLength="101.02" lengthAdjust="spacingAndGlyphs">Click to add title</text>
<text x="795.7" y="1213.7" font-size="14.06" fill="#15307c" font-weight="bold" textLength="101.02" lengthAdjust="spacingAndGlyphs">Click to add title</text>
<text x="614.2" y="1232.5" font-size="9.85" fill="#2b2b2b" textLength="145.12" lengthAdjust="spacingAndGlyphs">The title can be changed by clicking</text>
<text x="614.2" y="1248.9" font-size="9.85" fill="#2b2b2b" textLength="115.6" lengthAdjust="spacingAndGlyphs">and re-entering, and the font</text>
<text x="795.7" y="1232.5" font-size="9.85" fill="#2b2b2b" textLength="145.12" lengthAdjust="spacingAndGlyphs">The title can be changed by clicking</text>
<text x="795.7" y="1248.9" font-size="9.85" fill="#2b2b2b" textLength="115.6" lengthAdjust="spacingAndGlyphs">and re-entering, and the font</text>
<polygon points="563.40,1404.4 563.40,1252.98 655.25,1278.76 747.10,1292.36 838.95,1288.14 930.80,1334.55 930.80,1404.4" fill="#4a72b0"/>
<polygon points="563.40,1404.4 563.40,1357.52 655.25,1334.08 747.10,1329.39 838.95,1357.52 930.80,1357.52 930.80,1404.4" fill="#0f4494"/>
<text x="556" y="1407.3" font-size="8.6" fill="#444" text-anchor="end" textLength="4.45" lengthAdjust="spacingAndGlyphs">0</text>
<text x="556" y="1383.86" font-size="8.6" fill="#444" text-anchor="end" textLength="8.9" lengthAdjust="spacingAndGlyphs">10</text>
<text x="556" y="1360.42" font-size="8.6" fill="#444" text-anchor="end" textLength="8.9" lengthAdjust="spacingAndGlyphs">20</text>
<text x="556" y="1336.98" font-size="8.6" fill="#444" text-anchor="end" textLength="8.9" lengthAdjust="spacingAndGlyphs">30</text>
<text x="556" y="1313.54" font-size="8.6" fill="#444" text-anchor="end" textLength="8.9" lengthAdjust="spacingAndGlyphs">40</text>
<text x="556" y="1290.1" font-size="8.6" fill="#444" text-anchor="end" textLength="8.9" lengthAdjust="spacingAndGlyphs">50</text>
<text x="556" y="1266.66" font-size="8.6" fill="#444" text-anchor="end" textLength="8.9" lengthAdjust="spacingAndGlyphs">60</text>
<text x="556" y="1243.22" font-size="8.6" fill="#444" text-anchor="end" textLength="8.9" lengthAdjust="spacingAndGlyphs">70</text>
<text x="563.0" y="1417.4" font-size="8.17" fill="#444" text-anchor="middle" textLength="29.58" lengthAdjust="spacingAndGlyphs">2029/1/1</text>
<text x="654.85" y="1417.4" font-size="8.17" fill="#444" text-anchor="middle" textLength="29.58" lengthAdjust="spacingAndGlyphs">2029/2/1</text>
<text x="746.7" y="1417.4" font-size="8.17" fill="#444" text-anchor="middle" textLength="29.58" lengthAdjust="spacingAndGlyphs">2029/3/1</text>
<text x="838.55" y="1417.4" font-size="8.17" fill="#444" text-anchor="middle" textLength="29.58" lengthAdjust="spacingAndGlyphs">2029/4/1</text>
<text x="930.4" y="1417.4" font-size="8.17" fill="#444" text-anchor="middle" textLength="29.58" lengthAdjust="spacingAndGlyphs">2029/5/1</text>
<text x="61.25" y="1594" font-size="14.06" fill="#15307c" font-weight="bold" textLength="101.02" lengthAdjust="spacingAndGlyphs">Click to add title</text>
<text x="61.25" y="1612.75" font-size="9.85" fill="#2b2b2b" textLength="145.12" lengthAdjust="spacingAndGlyphs">The title can be changed by clicking</text>
<text x="61.25" y="1629.45" font-size="9.85" fill="#2b2b2b" textLength="154.8" lengthAdjust="spacingAndGlyphs">and re-entering, and the font, font size</text>
<text x="61.25" y="1646.15" font-size="9.85" fill="#2b2b2b" textLength="37.68" lengthAdjust="spacingAndGlyphs">and color</text>
<line x1="58.4" y1="1664.7" x2="216" y2="1664.7" stroke="#e2e2e2" stroke-width="0.9"/>
<text x="61.25" y="1693.75" font-size="14.06" fill="#15307c" font-weight="bold" textLength="101.02" lengthAdjust="spacingAndGlyphs">Click to add title</text>
<text x="61.25" y="1712.5" font-size="9.85" fill="#2b2b2b" textLength="145.12" lengthAdjust="spacingAndGlyphs">The title can be changed by clicking</text>
<text x="61.25" y="1729.2" font-size="9.85" fill="#2b2b2b" textLength="154.8" lengthAdjust="spacingAndGlyphs">and re-entering, and the font, font size</text>
<text x="61.25" y="1745.9" font-size="9.85" fill="#2b2b2b" textLength="37.68" lengthAdjust="spacingAndGlyphs">and color</text>
<polygon points="347.50,1668.00 355.00,1670.01 360.49,1675.50 362.50,1683.00 360.49,1690.50 355.00,1695.99 347.50,1698.00 340.00,1695.99 334.51,1690.50 332.50,1683.00 334.51,1675.50 340.00,1670.01" fill="none" stroke="#ebebeb" stroke-width="0.8"/>
<polygon points="347.50,1653.00 362.50,1657.02 373.48,1668.00 377.50,1683.00 373.48,1698.00 362.50,1708.98 347.50,1713.00 332.50,1708.98 321.52,1698.00 317.50,1683.00 321.52,1668.00 332.50,1657.02" fill="none" stroke="#ebebeb" stroke-width="0.8"/>
<polygon points="347.50,1638.00 370.00,1644.03 386.47,1660.50 392.50,1683.00 386.47,1705.50 370.00,1721.97 347.50,1728.00 325.00,1721.97 308.53,1705.50 302.50,1683.00 308.53,1660.50 325.00,1644.03" fill="none" stroke="#ebebeb" stroke-width="0.8"/>
<polygon points="347.50,1623.00 377.50,1631.04 399.46,1653.00 407.50,1683.00 399.46,1713.00 377.50,1734.96 347.50,1743.00 317.50,1734.96 295.54,1713.00 287.50,1683.00 295.54,1653.00 317.50,1631.04" fill="none" stroke="#ebebeb" stroke-width="0.8"/>
<polygon points="347.50,1608.00 385.00,1618.05 412.45,1645.50 422.50,1683.00 412.45,1720.50 385.00,1747.95 347.50,1758.00 310.00,1747.95 282.55,1720.50 272.50,1683.00 282.55,1645.50 310.00,1618.05" fill="none" stroke="#ebebeb" stroke-width="0.8"/>
<polygon points="347.50,1634.60 379.20,1628.09 405.52,1649.50 395.50,1683.00 393.40,1709.50 372.15,1725.70 347.50,1731.40 322.85,1725.70 314.07,1702.30 295.00,1683.00 315.28,1664.40 327.20,1647.84" fill="#374ba3" fill-opacity="0.25"/>
<polygon points="347.50,1630.50 377.25,1631.47 386.82,1660.30 413.10,1683.00 386.47,1705.50 367.75,1718.07 347.50,1731.10 317.25,1735.39 301.95,1709.30 302.30,1683.00 318.92,1666.50 325.25,1644.46" fill="#24a1c0" fill-opacity="0.16"/>
<polygon points="347.50,1630.50 377.25,1631.47 386.82,1660.30 413.10,1683.00 386.47,1705.50 367.75,1718.07 347.50,1731.10 317.25,1735.39 301.95,1709.30 302.30,1683.00 318.92,1666.50 325.25,1644.46" fill="none" stroke="#2a88a8" stroke-width="1.1" stroke-linejoin="miter"/>
<polygon points="347.50,1634.60 379.20,1628.09 405.52,1649.50 395.50,1683.00 393.40,1709.50 372.15,1725.70 347.50,1731.40 322.85,1725.70 314.07,1702.30 295.00,1683.00 315.28,1664.40 327.20,1647.84" fill="none" stroke="#112260" stroke-width="1.5" stroke-linejoin="miter"/>
<text x="347" y="1603.75" font-size="9.03" fill="#404040" text-anchor="middle" textLength="25.22" lengthAdjust="spacingAndGlyphs">Index1</text>
<text x="398" y="1618.5" font-size="9.03" fill="#404040" text-anchor="middle" textLength="25.22" lengthAdjust="spacingAndGlyphs">Index2</text>
<text x="427.5" y="1647" font-size="9.03" fill="#404040" text-anchor="middle" textLength="25.22" lengthAdjust="spacingAndGlyphs">Index3</text>
<text x="437.5" y="1687" font-size="9.03" fill="#404040" text-anchor="middle" textLength="25.22" lengthAdjust="spacingAndGlyphs">Index4</text>
<text x="427.5" y="1726" font-size="9.03" fill="#404040" text-anchor="middle" textLength="25.22" lengthAdjust="spacingAndGlyphs">Index5</text>
<text x="398" y="1755.5" font-size="9.03" fill="#404040" text-anchor="middle" textLength="25.22" lengthAdjust="spacingAndGlyphs">Index6</text>
<text x="347" y="1770.5" font-size="9.03" fill="#404040" text-anchor="middle" textLength="25.22" lengthAdjust="spacingAndGlyphs">Index7</text>
<text x="296" y="1755.5" font-size="9.03" fill="#404040" text-anchor="middle" textLength="25.22" lengthAdjust="spacingAndGlyphs">Index8</text>
<text x="268" y="1726" font-size="9.03" fill="#404040" text-anchor="middle" textLength="25.22" lengthAdjust="spacingAndGlyphs">Index9</text>
<text x="256" y="1687" font-size="9.03" fill="#404040" text-anchor="middle" textLength="29.89" lengthAdjust="spacingAndGlyphs">Index10</text>
<text x="268" y="1647" font-size="9.03" fill="#404040" text-anchor="middle" textLength="29.27" lengthAdjust="spacingAndGlyphs">Index11</text>
<text x="294.5" y="1618.5" font-size="9.03" fill="#404040" text-anchor="middle" textLength="29.89" lengthAdjust="spacingAndGlyphs">Index12</text>
<text x="336.1" y="1577.1" font-size="13.97" fill="#333" text-anchor="middle" textLength="119.21" lengthAdjust="spacingAndGlyphs">Two-color radar map</text>
<rect x="428.6" y="1572.3" width="4" height="4" fill="#d8eef6" stroke="#2a9cc0" stroke-width="1.1"/>
<rect x="428.6" y="1586.6" width="4" height="4" fill="#c8cde6" stroke="#112260" stroke-width="1.1"/>
<text x="434.8" y="1577.1" font-size="9.85" fill="#333" textLength="22.91" lengthAdjust="spacingAndGlyphs">Item1</text>
<text x="434.8" y="1591.7" font-size="9.85" fill="#333" textLength="22.91" lengthAdjust="spacingAndGlyphs">Item2</text>
<path d="M753.4 1666.6 L753.40 1609.10 A57.5 57.5 0 0 1 803.20 1695.35 Z" fill="#2f5ca8"/>
<path d="M753.4 1666.6 L803.20 1695.35 A57.5 57.5 0 0 1 703.60 1695.35 Z" fill="#5f86c2"/>
<path d="M753.4 1666.6 L703.60 1695.35 A57.5 57.5 0 0 1 753.40 1609.10 Z" fill="#0e3a8c"/>
<line x1="753.4" y1="1666.6" x2="753.40" y2="1607.10" stroke="#fff" stroke-width="7.6"/>
<line x1="753.4" y1="1666.6" x2="804.93" y2="1696.35" stroke="#fff" stroke-width="7.6"/>
<line x1="753.4" y1="1666.6" x2="701.87" y2="1696.35" stroke="#fff" stroke-width="7.6"/>
<circle cx="753.4" cy="1666.6" r="4.5" fill="#fff"/>
<text x="728.4" y="1654" font-size="15.91" fill="#fff" font-weight="bold" text-anchor="middle" textLength="26.33" lengthAdjust="spacingAndGlyphs">P01</text>
<text x="779.2" y="1654" font-size="15.91" fill="#fff" font-weight="bold" text-anchor="middle" textLength="26.33" lengthAdjust="spacingAndGlyphs">P02</text>
<text x="753.4" y="1703.3" font-size="15.91" fill="#fff" font-weight="bold" text-anchor="middle" textLength="26.33" lengthAdjust="spacingAndGlyphs">P03</text>
<path d="M694.82 1695.68 A65.4 65.4 0 0 1 748.95 1601.35" fill="none" stroke="#8e9399" stroke-width="1.8"/>
<polygon points="747.15,1599.03 751.80,1601.22 747.26,1603.63" fill="#8e9399"/>
<path d="M757.85 1601.35 A65.4 65.4 0 0 1 813.69 1691.94" fill="none" stroke="#8e9399" stroke-width="1.8"/>
<polygon points="816.57,1691.37 812.53,1694.55 812.41,1689.41" fill="#8e9399"/>
<path d="M809.40 1700.38 A65.4 65.4 0 0 1 700.16 1704.58" fill="none" stroke="#8e9399" stroke-width="1.8"/>
<polygon points="699.13,1707.33 698.55,1702.22 702.99,1704.82" fill="#8e9399"/>
<polyline points="643.9,1602.1 673.1,1602.1 695.3,1624.3" fill="none" stroke="#a7abb3" stroke-width="0.9"/>
<circle cx="643.9" cy="1602.1" r="2" fill="#a7abb3"/>
<polyline points="848.7,1602 832.5,1602 810,1625" fill="none" stroke="#a7abb3" stroke-width="0.9"/>
<circle cx="848.7" cy="1602" r="2" fill="#a7abb3"/>
<polyline points="704.7,1733.8 718.3,1733.8 722.5,1728.7" fill="none" stroke="#a7abb3" stroke-width="0.9"/>
<circle cx="704.7" cy="1733.8" r="2" fill="#a7abb3"/>
<text x="543" y="1603.9" font-size="12.61" fill="#15307c" font-weight="bold" textLength="90.59" lengthAdjust="spacingAndGlyphs">Click to add title</text>
<text x="543" y="1620.5" font-size="8.41" fill="#333" textLength="96.08" lengthAdjust="spacingAndGlyphs">The title can be changed by</text>
<text x="543" y="1634.7" font-size="8.41" fill="#333" textLength="98.24" lengthAdjust="spacingAndGlyphs">clicking and re-entering, and</text>
<text x="543" y="1648.9" font-size="8.41" fill="#333" textLength="93.9" lengthAdjust="spacingAndGlyphs">the font, font size and color</text>
<text x="845.8" y="1622.8" font-size="12.61" fill="#15307c" font-weight="bold" textLength="90.59" lengthAdjust="spacingAndGlyphs">Click to add title</text>
<text x="845.8" y="1639.9" font-size="8.41" fill="#333" textLength="96.08" lengthAdjust="spacingAndGlyphs">The title can be changed by</text>
<text x="845.8" y="1654.1" font-size="8.41" fill="#333" textLength="98.24" lengthAdjust="spacingAndGlyphs">clicking and re-entering, and</text>
<text x="845.8" y="1668.3" font-size="8.41" fill="#333" textLength="93.9" lengthAdjust="spacingAndGlyphs">the font, font size and color</text>
<text x="581.3" y="1729.2" font-size="12.61" fill="#15307c" font-weight="bold" textLength="90.59" lengthAdjust="spacingAndGlyphs">Click to add title</text>
<text x="581.3" y="1746.0" font-size="8.41" fill="#333" textLength="96.08" lengthAdjust="spacingAndGlyphs">The title can be changed by</text>
<text x="581.3" y="1760.2" font-size="8.41" fill="#333" textLength="98.24" lengthAdjust="spacingAndGlyphs">clicking and re-entering, and</text>
<text x="581.3" y="1774.4" font-size="8.41" fill="#333" textLength="93.9" lengthAdjust="spacingAndGlyphs">the font, font size and color</text>
</svg></body></html>
